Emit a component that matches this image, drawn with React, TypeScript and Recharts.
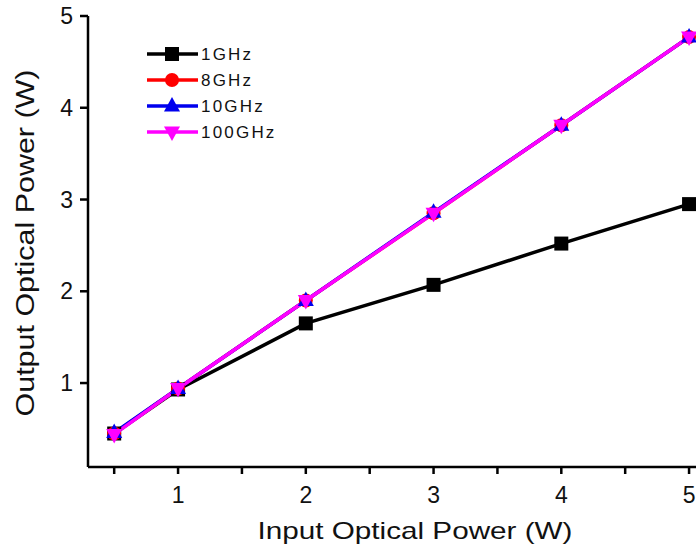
import { LineChart, Line, XAxis, YAxis, Legend, Label } from "recharts";

// input optical power (W)
const inputPower = [0.5, 1, 2, 3, 4, 5];
// output optical power (W) per modulation frequency
const out1GHz = [0.45, 0.93, 1.65, 2.07, 2.52, 2.95];
const out8GHz = [0.45, 0.94, 1.9, 2.85, 3.81, 4.77];
const out10GHz = [0.46, 0.94, 1.9, 2.86, 3.81, 4.77];
const out100GHz = [0.44, 0.94, 1.9, 2.85, 3.81, 4.77];

const xTicks = [0.5, 1, 1.5, 2, 2.5, 3, 3.5, 4, 4.5, 5];
const yTicks = [1, 2, 3, 4, 5];

const FONT = "'Liberation Sans', Arial, sans-serif";
const INK = "#111";

type Shape = "square" | "circle" | "up" | "down";

const series: { key: string; name: string; color: string; shape: Shape }[] = [
  { key: "f1", name: "1GHz", color: "#000000", shape: "square" },
  { key: "f8", name: "8GHz", color: "#ff0000", shape: "circle" },
  { key: "f10", name: "10GHz", color: "#0000ee", shape: "up" },
  { key: "f100", name: "100GHz", color: "#ff00ff", shape: "down" },
];

const data = inputPower.map((x, i) => ({
  x,
  f1: out1GHz[i],
  f8: out8GHz[i],
  f10: out10GHz[i],
  f100: out100GHz[i],
}));

function marker(shape: Shape, cx: number, cy: number, color: string, key?: string | number) {
  if (shape === "square") {
    return <rect key={key} x={cx - 7} y={cy - 7} width={14} height={14} fill={color} />;
  }
  if (shape === "circle") {
    return <circle key={key} cx={cx} cy={cy} r={7} fill={color} />;
  }
  if (shape === "up") {
    return (
      <polygon
        key={key}
        points={`${cx},${cy - 9} ${cx - 8},${cy + 5.5} ${cx + 8},${cy + 5.5}`}
        fill={color}
      />
    );
  }
  return (
    <polygon
      key={key}
      points={`${cx},${cy + 9} ${cx - 8},${cy - 5.5} ${cx + 8},${cy - 5.5}`}
      fill={color}
    />
  );
}

function LegendBox() {
  return (
    <svg width={160} height={115}>
      {series.map((s, i) => {
        const y = 19 + i * 26;
        return (
          <g key={s.key}>
            <line x1={7} x2={58} y1={y} y2={y} stroke={s.color} strokeWidth={3.5} />
            {marker(s.shape, 32, y, s.color)}
            <text
              x={61}
              y={y + 6}
              fontSize={17}
              fontFamily={FONT}
              fill={INK}
              letterSpacing={2.2}
            >
              {s.name}
            </text>
          </g>
        );
      })}
    </svg>
  );
}

const axisStyle = { stroke: "#000", strokeWidth: 2.5 };

export default function App() {
  return (
    <div
      style={{
        position: "absolute",
        left: 0,
        top: 0,
        width: 696,
        height: 548,
        overflow: "hidden",
        background: "#fff",
      }}
    >
      <LineChart
        width={702}
        height={548}
        data={data}
        margin={{ top: 16, right: 4, bottom: 0, left: 0 }}
      >
        <XAxis
          dataKey="x"
          type="number"
          domain={[0.295, 5.07]}
          ticks={xTicks}
          interval={0}
          tickFormatter={(v: number) => (Number.isInteger(v) ? String(v) : "")}
          tickSize={7}
          tickMargin={13}
          height={81}
          axisLine={axisStyle}
          tickLine={axisStyle}
          tick={{ fill: INK, fontSize: 23, fontFamily: FONT }}
        >
          <Label
            content={() => (
              <text
                x={415}
                y={539}
                textAnchor="middle"
                fontSize={24}
                fontFamily={FONT}
                fill={INK}
                textLength={315}
                lengthAdjust="spacingAndGlyphs"
              >
                Input Optical Power (W)
              </text>
            )}
          />
        </XAxis>
        <XAxis
          xAxisId="top"
          orientation="top"
          type="number"
          dataKey="x"
          domain={[0.295, 5.07]}
          height={0}
          tick={false}
          tickLine={false}
          axisLine={axisStyle}
        />
        <YAxis
          type="number"
          domain={[0.085, 5]}
          ticks={yTicks}
          interval={0}
          width={88}
          tickSize={8}
          tickMargin={7}
          axisLine={axisStyle}
          tickLine={axisStyle}
          tick={{ fill: INK, fontSize: 23, fontFamily: FONT }}
        >
          <Label
            content={() => (
              <text
                x={34}
                y={243}
                transform="rotate(-90 34 243)"
                textAnchor="middle"
                fontSize={25}
                fontFamily={FONT}
                fill={INK}
                textLength={347}
                lengthAdjust="spacingAndGlyphs"
              >
                Output Optical Power (W)
              </text>
            )}
          />
        </YAxis>
        <YAxis
          yAxisId="right"
          orientation="right"
          type="number"
          domain={[0.085, 5]}
          ticks={yTicks}
          interval={0}
          mirror
          width={0}
          tick={false}
          tickSize={6}
          axisLine={false}
          tickLine={{ stroke: "#000", strokeWidth: 2 }}
        />
        <Legend
          layout="vertical"
          align="center"
          verticalAlign="middle"
          wrapperStyle={{ left: 140, top: 35, width: 160, height: 115 }}
          content={() => <LegendBox />}
        />
        {series.map((s) => (
          <Line
            key={s.key}
            dataKey={s.key}
            name={s.name}
            stroke={s.color}
            strokeWidth={3.5}
            isAnimationActive={false}
            dot={(p: any) => marker(s.shape, p.cx, p.cy, s.color, `${s.key}-${p.index}`)}
            activeDot={false}
          />
        ))}
      </LineChart>
    </div>
  );
}
